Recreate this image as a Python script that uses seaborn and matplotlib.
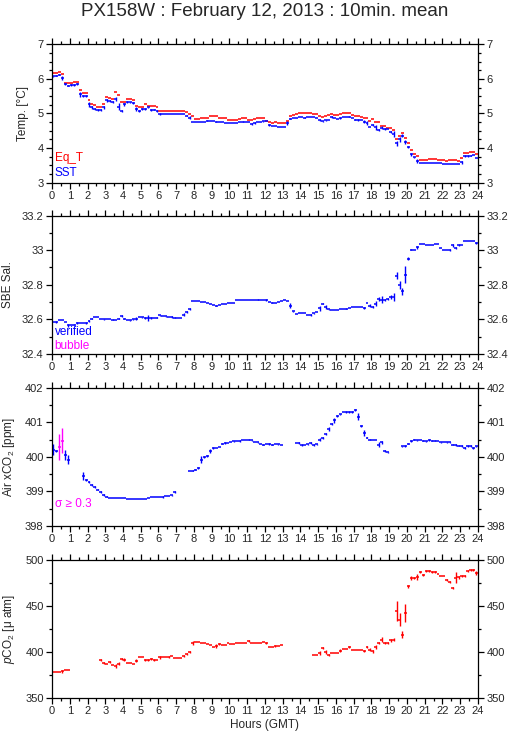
import numpy as np
import matplotlib
matplotlib.use("Agg")
import matplotlib.pyplot as plt
import seaborn as sns
from matplotlib.ticker import MultipleLocator

# 10-minute bins, 6 per hour, 24 hours (one row per hour)
sst = [
    6.07, 6.09, 6.12, 6.02, 5.84, 5.80,
    5.82, 5.82, 5.86, 5.55, 5.50, 5.50,
    5.27, 5.18, 5.12, 5.10, 5.10, 5.18,
    5.38, 5.35, 5.33, 5.42, 5.20, 5.07,
    5.27, 5.33, 5.32, 5.30, 5.13, 5.07,
    5.12, 5.14, 5.18, 5.10, 5.11, 5.07,
    4.99, 4.99, 4.99, 4.99, 4.99, 4.99,
    4.99, 4.99, 4.99, 4.94, 4.88, 4.76,
    4.76, 4.76, 4.76, 4.76, 4.79, 4.79,
    4.79, 4.76, 4.76, 4.76, 4.73, 4.72,
    4.72, 4.72, 4.73, 4.75, 4.76, 4.76,
    4.75, 4.70, 4.72, 4.75, 4.76, 4.77,
    4.77, 4.66, 4.65, 4.65, 4.61, 4.61,
    4.61, 4.72, 4.85, 4.87, 4.88, 4.89,
    4.89, 4.88, 4.89, 4.89, 4.89, 4.87,
    4.81, 4.77, 4.80, 4.80, 4.89, 4.87,
    4.85, 4.87, 4.90, 4.90, 4.91, 4.88,
    4.82, 4.81, 4.80, 4.76, 4.73, 4.60,
    4.67, 4.60, 4.52, 4.59, 4.55, 4.55,
    4.47, 4.40, 4.14, 4.25, 4.36, 4.17,
    4.02, 3.82, 3.73, 3.63, 3.56, 3.56,
    3.56, 3.56, 3.56, 3.56, 3.56, 3.56,
    3.53, 3.53, 3.54, 3.54, 3.54, 3.54,
    3.59, 3.77, 3.77, 3.78, 3.79, 3.71,
]
sst_sd = [
    0.01, 0.01, 0.01, 0.06, 0.03, 0.02,
    0.02, 0.02, 0.03, 0.08, 0.02, 0.02,
    0.07, 0.05, 0.03, 0.02, 0.02, 0.05,
    0.04, 0.03, 0.02, 0.06, 0.10, 0.03,
    0.04, 0.02, 0.02, 0.03, 0.06, 0.02,
    0.03, 0.03, 0.02, 0.03, 0.02, 0.02,
    0.02, 0.00, 0.00, 0.00, 0.00, 0.00,
    0.00, 0.00, 0.00, 0.02, 0.04, 0.00,
    0.00, 0.00, 0.00, 0.00, 0.02, 0.00,
    0.00, 0.02, 0.00, 0.00, 0.00, 0.00,
    0.00, 0.00, 0.00, 0.00, 0.02, 0.00,
    0.00, 0.02, 0.02, 0.00, 0.00, 0.02,
    0.00, 0.03, 0.00, 0.00, 0.00, 0.00,
    0.00, 0.05, 0.02, 0.00, 0.00, 0.00,
    0.00, 0.02, 0.00, 0.00, 0.00, 0.00,
    0.03, 0.02, 0.02, 0.00, 0.03, 0.00,
    0.00, 0.02, 0.00, 0.00, 0.02, 0.00,
    0.02, 0.03, 0.00, 0.04, 0.05, 0.00,
    0.03, 0.08, 0.03, 0.04, 0.02, 0.00,
    0.02, 0.08, 0.07, 0.08, 0.05, 0.06,
    0.03, 0.05, 0.02, 0.05, 0.00, 0.00,
    0.00, 0.00, 0.00, 0.00, 0.00, 0.00,
    0.00, 0.00, 0.00, 0.00, 0.00, 0.00,
    0.04, 0.02, 0.02, 0.02, 0.00, 0.00,
]
eq_t = [
    6.16, 6.16, 6.19, 6.14, 5.87, 5.87,
    5.89, 5.92, 5.92, 5.68, 5.58, 5.58,
    5.39, 5.27, 5.24, 5.20, 5.20, 5.27,
    5.47, 5.46, 5.42, 5.61, 5.52, 5.34,
    5.32, 5.42, 5.42, 5.40, 5.22, 5.20,
    5.20, 5.27, 5.22, 5.22, 5.22, 5.20,
    5.08, 5.08, 5.08, 5.08, 5.08, 5.08,
    5.08, 5.08, 5.08, 5.03, 4.98, 4.93,
    4.83, 4.83, 4.86, 4.86, 4.86, 4.92,
    4.93, 4.93, 4.86, 4.86, 4.86, 4.81,
    4.81, 4.81, 4.81, 4.83, 4.86, 4.86,
    4.82, 4.81, 4.83, 4.86, 4.87, 4.88,
    4.78, 4.76, 4.72, 4.74, 4.72, 4.72,
    4.72, 4.79, 4.93, 4.95, 4.98, 5.00,
    5.00, 5.00, 5.02, 5.02, 4.99, 4.98,
    4.92, 4.90, 4.93, 4.96, 4.98, 4.97,
    4.96, 4.99, 5.00, 5.00, 5.00, 4.97,
    4.93, 4.93, 4.90, 4.86, 4.86, 4.78,
    4.83, 4.74, 4.74, 4.65, 4.65, 4.58,
    4.57, 4.53, 4.25, 4.35, 4.45, 4.28,
    4.14, 3.94, 3.83, 3.77, 3.66, 3.66,
    3.66, 3.68, 3.68, 3.68, 3.66, 3.66,
    3.65, 3.63, 3.66, 3.66, 3.66, 3.63,
    3.70, 3.85, 3.85, 3.88, 3.88, 3.83,
]
sal = [
    32.585, 32.585, 32.595, 32.595, 32.583, 32.566,
    32.570, 32.570, 32.580, 32.580, 32.580, 32.580,
    32.590, 32.605, 32.614, 32.614, 32.605, 32.600,
    32.600, 32.600, 32.598, 32.598, 32.605, 32.618,
    32.605, 32.597, 32.595, 32.600, 32.605, 32.614,
    32.612, 32.607, 32.608, 32.609, 32.608, 32.610,
    32.624, 32.622, 32.618, 32.616, 32.614, 32.610,
    32.610, 32.610, 32.628, 32.643, 32.660, 32.705,
    32.705, 32.705, 32.702, 32.698, 32.695, 32.690,
    32.682, 32.680, 32.685, 32.686, 32.688, 32.692,
    32.695, 32.696, 32.714, 32.714, 32.714, 32.714,
    32.714, 32.714, 32.714, 32.714, 32.714, 32.714,
    32.712, 32.700, 32.697, 32.695, 32.703, 32.706,
    32.710, 32.705, 32.680, 32.647, 32.632, 32.636,
    32.638, 32.637, 32.628, 32.626, 32.634, 32.640,
    32.664, 32.690, 32.672, 32.658, 32.656, 32.656,
    32.656, 32.658, 32.662, 32.662, 32.668, 32.669,
    32.670, 32.670, 32.670, 32.666, 32.695, 32.680,
    32.672, 32.690, 32.718, 32.714, 32.710, 32.718,
    32.730, 32.730, 32.853, 32.797, 32.762, 32.858,
    32.950, 33.003, 33.003, 33.017, 33.036, 33.036,
    33.032, 33.032, 33.032, 33.034, 33.036, 33.013,
    33.000, 33.000, 33.000, 33.027, 33.013, 33.032,
    33.030, 33.055, 33.055, 33.055, 33.055, 33.042,
]
sal_sd = [
    0.000, 0.004, 0.000, 0.000, 0.000, 0.008,
    0.000, 0.004, 0.004, 0.000, 0.000, 0.004,
    0.008, 0.004, 0.000, 0.000, 0.000, 0.004,
    0.000, 0.000, 0.004, 0.000, 0.004, 0.006,
    0.004, 0.000, 0.004, 0.004, 0.006, 0.000,
    0.004, 0.004, 0.020, 0.004, 0.000, 0.004,
    0.004, 0.000, 0.004, 0.000, 0.004, 0.004,
    0.000, 0.000, 0.006, 0.006, 0.008, 0.000,
    0.000, 0.000, 0.000, 0.000, 0.000, 0.000,
    0.000, 0.004, 0.000, 0.000, 0.000, 0.000,
    0.000, 0.000, 0.000, 0.000, 0.000, 0.000,
    0.000, 0.000, 0.000, 0.004, 0.000, 0.000,
    0.006, 0.000, 0.004, 0.000, 0.000, 0.000,
    0.000, 0.000, 0.012, 0.004, 0.000, 0.000,
    0.000, 0.000, 0.000, 0.004, 0.004, 0.000,
    0.014, 0.004, 0.012, 0.004, 0.000, 0.000,
    0.000, 0.000, 0.000, 0.004, 0.000, 0.000,
    0.000, 0.000, 0.000, 0.006, 0.000, 0.010,
    0.004, 0.014, 0.010, 0.020, 0.006, 0.004,
    0.012, 0.025, 0.022, 0.024, 0.020, 0.050,
    0.008, 0.004, 0.000, 0.008, 0.000, 0.000,
    0.000, 0.000, 0.000, 0.000, 0.000, 0.000,
    0.000, 0.000, 0.004, 0.006, 0.004, 0.006,
    0.000, 0.000, 0.000, 0.000, 0.000, 0.004,
]
nan = np.nan
xco2 = [
    400.21, 400.16, 400.29, 400.47, 400.06, 399.92,
    nan, nan, nan, nan, 399.45, 399.34,
    399.27, 399.19, 399.12, 399.05, 398.98, 398.90,
    398.85, 398.82, 398.82, 398.80, 398.80, 398.80,
    398.80, 398.79, 398.77, 398.77, 398.77, 398.77,
    398.77, 398.79, 398.82, 398.83, 398.83, 398.83,
    398.83, 398.84, 398.86, 398.88, 398.89, 398.97,
    nan, nan, nan, nan, 399.58, 399.60,
    399.63, 399.68, 399.92, 399.99, 400.03, 400.18,
    400.26, 400.26, 400.29, 400.38, 400.40, 400.40,
    400.42, 400.45, 400.45, 400.46, 400.48, 400.50,
    400.50, 400.48, 400.44, 400.42, 400.38, 400.35,
    400.38, 400.37, 400.35, 400.37, 400.36, 400.35,
    nan, nan, nan, nan, 400.40, 400.40,
    400.35, 400.35, 400.36, 400.40, 400.35, 400.36,
    400.50, 400.55, 400.66, 400.81, 400.95, 401.05,
    401.18, 401.23, 401.29, 401.29, 401.29, 401.30,
    401.34, 401.16, 400.89, 400.69, 400.55, 400.50,
    400.50, 400.50, 400.35, 400.42, 400.16, 400.13,
    nan, nan, nan, nan, 400.30, 400.31,
    400.38, 400.45, 400.50, 400.48, 400.48, 400.47,
    400.45, 400.48, 400.47, 400.47, 400.47, 400.42,
    400.42, 400.42, 400.42, 400.35, 400.35, 400.32,
    400.30, 400.26, 400.31, 400.31, 400.26, 400.30,
]
xco2_sd = [
    0.15, 0.03, 0.37, 0.35, 0.15, 0.13,
    0.00, 0.00, 0.00, 0.00, 0.12, 0.03,
    0.02, 0.02, 0.03, 0.02, 0.02, 0.02,
    0.02, 0.00, 0.00, 0.00, 0.00, 0.00,
    0.00, 0.00, 0.00, 0.00, 0.00, 0.00,
    0.00, 0.00, 0.00, 0.00, 0.00, 0.00,
    0.00, 0.02, 0.00, 0.00, 0.02, 0.03,
    0.00, 0.00, 0.00, 0.00, 0.00, 0.02,
    0.02, 0.03, 0.10, 0.03, 0.03, 0.06,
    0.02, 0.00, 0.00, 0.02, 0.02, 0.00,
    0.00, 0.02, 0.00, 0.02, 0.00, 0.00,
    0.02, 0.02, 0.00, 0.02, 0.00, 0.02,
    0.00, 0.02, 0.02, 0.00, 0.02, 0.00,
    0.00, 0.00, 0.00, 0.00, 0.00, 0.02,
    0.03, 0.00, 0.02, 0.02, 0.03, 0.02,
    0.03, 0.03, 0.03, 0.06, 0.04, 0.06,
    0.03, 0.02, 0.00, 0.02, 0.02, 0.02,
    0.03, 0.10, 0.04, 0.08, 0.02, 0.02,
    0.00, 0.00, 0.07, 0.04, 0.03, 0.02,
    0.00, 0.00, 0.00, 0.00, 0.02, 0.02,
    0.02, 0.03, 0.02, 0.02, 0.00, 0.02,
    0.02, 0.03, 0.02, 0.02, 0.00, 0.02,
    0.00, 0.02, 0.02, 0.02, 0.03, 0.02,
    0.03, 0.02, 0.03, 0.02, 0.03, 0.02,
]
pco2 = [
    378.2, 378.2, 378.2, 378.9, 380.4, 380.4,
    nan, nan, nan, nan, nan, nan,
    nan, nan, nan, nan, 391.6, 388.0,
    386.9, 388.7, 385.4, 385.0, 387.2, 392.3,
    391.6, 388.0, 388.0, 386.9, 390.5, 394.1,
    394.1, 390.8, 391.0, 392.3, 391.6, 391.6,
    394.1, 394.5, 394.5, 394.5, 395.2, 393.4,
    393.4, 393.4, 395.2, 397.7, 399.8, 409.6,
    410.7, 410.7, 409.6, 409.6, 408.5, 407.8,
    404.9, 406.7, 408.9, 407.8, 407.8, 409.6,
    408.9, 408.9, 409.6, 409.6, 409.6, 409.6,
    411.4, 409.6, 409.6, 409.6, 409.6, 410.7,
    409.6, 405.3, 405.3, 406.0, 406.7, 407.3,
    nan, nan, nan, nan, nan, nan,
    nan, nan, nan, nan, 397.0, 397.0,
    398.8, 404.2, 399.9, 397.0, 398.8, 398.8,
    398.8, 401.3, 403.5, 403.5, 405.3, 402.4,
    402.4, 402.4, 402.4, 400.6, 404.9, 402.4,
    400.6, 405.3, 409.6, 413.2, 409.6, 409.6,
    412.5, 413.2, 444.0, 435.0, 418.7, 442.2,
    471.1, 480.1, 480.1, 481.2, 486.3, 483.7,
    487.3, 487.3, 486.3, 486.3, 484.8, 482.6,
    482.6, 478.3, 475.8, 469.3, 480.1, 480.8,
    481.9, 482.6, 487.3, 488.4, 489.1, 485.5,
]
pco2_sd = [
    0.0, 0.0, 0.0, 1.5, 0.0, 0.0,
    0.0, 0.0, 0.0, 0.0, 0.0, 0.0,
    0.0, 0.0, 0.0, 0.0, 1.0, 1.0,
    0.0, 1.0, 0.0, 2.0, 1.5, 1.0,
    2.0, 0.0, 0.0, 0.0, 2.0, 0.0,
    0.0, 1.0, 1.0, 1.5, 1.0, 0.0,
    1.5, 0.0, 0.0, 1.0, 0.0, 0.0,
    0.0, 0.0, 1.0, 1.5, 1.5, 2.0,
    0.0, 0.0, 0.0, 0.0, 0.0, 0.0,
    0.0, 2.0, 1.0, 0.0, 0.0, 0.0,
    0.0, 0.0, 0.0, 0.0, 0.0, 0.0,
    1.0, 0.0, 0.0, 0.0, 0.0, 0.0,
    1.5, 0.0, 0.0, 1.0, 0.0, 0.0,
    0.0, 0.0, 0.0, 0.0, 0.0, 0.0,
    0.0, 0.0, 0.0, 0.0, 0.0, 0.0,
    2.0, 1.0, 2.5, 1.0, 0.0, 0.0,
    0.0, 2.0, 0.0, 0.0, 1.0, 0.0,
    0.0, 0.0, 0.0, 1.0, 1.0, 2.0,
    1.5, 2.5, 1.5, 3.0, 1.5, 1.5,
    1.5, 1.5, 11.0, 7.0, 4.0, 10.0,
    1.5, 2.0, 1.5, 3.0, 1.0, 1.0,
    1.0, 1.0, 1.0, 1.0, 0.0, 0.0,
    0.0, 1.0, 1.0, 1.0, 6.0, 1.5,
    1.0, 1.0, 1.0, 1.0, 1.0, 2.0,
]

hours = np.arange(len(sst)) / 6 + 1 / 12
half = 1 / 12

RED = "#ff0000"
BLUE = "#0000ff"
MAGENTA = "#ff00ff"

sns.set_theme(style="ticks")
plt.rcParams["font.family"] = ["Liberation Sans", "DejaVu Sans"]
plt.rcParams["mathtext.fontset"] = "custom"
plt.rcParams["mathtext.rm"] = "Liberation Sans"
plt.rcParams["mathtext.it"] = "Liberation Sans:italic"
plt.rcParams["axes.linewidth"] = 0.9
plt.rcParams["axes.edgecolor"] = "black"


def draw_bins(ax, y, sd=None, color=BLUE, colors=None):
    y = np.asarray(y, dtype=float)
    ok = ~np.isnan(y)
    cols = colors if colors is not None else [color] * len(y)
    cols = np.array(cols)
    ax.hlines(y[ok], hours[ok] - half, hours[ok] + half, colors=cols[ok],
              linewidth=1.1, capstyle="butt")
    if sd is not None:
        sd = np.asarray(sd, dtype=float)
        m = ok & (sd > 0)
        ax.vlines(hours[m], y[m] - sd[m], y[m] + sd[m], colors=cols[m],
                  linewidth=1.0)


def style_axis(ax, ylim, major, minor, fmt=None):
    ax.set_xlim(0, 24)
    ax.set_ylim(*ylim)
    ax.xaxis.set_major_locator(MultipleLocator(1))
    ax.xaxis.set_minor_locator(MultipleLocator(0.5))
    ax.yaxis.set_major_locator(MultipleLocator(major))
    ax.yaxis.set_minor_locator(MultipleLocator(minor))
    ax.tick_params(which="both", direction="out", top=True, right=True,
                   labelright=True, labelsize=8, color="black", width=0.9,
                   pad=2)
    ax.tick_params(which="major", length=4)
    ax.tick_params(which="minor", length=2.5)
    if fmt is not None:
        ax.yaxis.set_major_formatter(fmt)
    for s in ax.spines.values():
        s.set_visible(True)
        s.set_color("black")


fig = plt.figure(figsize=(5.15, 7.39), dpi=100)
left, width, height = 0.101, 0.827, 0.1873
ax1 = fig.add_axes([left, 0.7528, width, height])
ax2 = fig.add_axes([left, 0.5210, width, height])
ax3 = fig.add_axes([left, 0.2882, width, height])
ax4 = fig.add_axes([left, 0.0555, width, height])

# Temperature
draw_bins(ax1, eq_t, color=RED)
draw_bins(ax1, sst, sst_sd, color=BLUE)
style_axis(ax1, (3, 7), 1, 0.25)
ax1.set_ylabel("Temp. [°C]", fontsize=8.5, labelpad=6)
ax1.text(0.006, 0.18, "Eq_T", color=RED, fontsize=8.5, transform=ax1.transAxes, va="center")
ax1.text(0.006, 0.072, "SST", color=BLUE, fontsize=8.5, transform=ax1.transAxes, va="center")

# Salinity
draw_bins(ax2, sal, sal_sd, color=BLUE)
style_axis(ax2, (32.4, 33.2), 0.2, 0.1,
           fmt=matplotlib.ticker.FuncFormatter(lambda v, p: f"{v:g}"))
ax2.set_ylabel("SBE Sal.", fontsize=8.5, labelpad=6)
ax2.text(0.006, 0.157, "verified", color=BLUE, fontsize=8.5, transform=ax2.transAxes, va="center")
ax2.text(0.006, 0.06, "bubble", color=MAGENTA, fontsize=8.5, transform=ax2.transAxes, va="center")

# Air xCO2, flagged in magenta when sd >= 0.3
xco2_colors = [MAGENTA if s >= 0.3 else BLUE for s in xco2_sd]
draw_bins(ax3, xco2, xco2_sd, colors=xco2_colors)
style_axis(ax3, (398, 402), 1, 0.5)
ax3.set_ylabel("Air xCO$_2$ [ppm]", fontsize=8.5, labelpad=6)
ax3.text(0.006, 0.157, "σ ≥ 0.3", color=MAGENTA, fontsize=8.5, transform=ax3.transAxes, va="center")

# pCO2
draw_bins(ax4, pco2, pco2_sd, color=RED)
style_axis(ax4, (350, 500), 50, 25)
ax4.set_ylabel("$\\it{p}$CO$_2$ [μ atm]", fontsize=8.5, labelpad=6)
ax4.set_xlabel("Hours (GMT)", fontsize=8.5, labelpad=2)

fig.text(0.514, 0.984, "PX158W : February 12, 2013 : 10min. mean",
         ha="center", va="center", fontsize=13.5)

fig.savefig("out.png", dpi=100)
